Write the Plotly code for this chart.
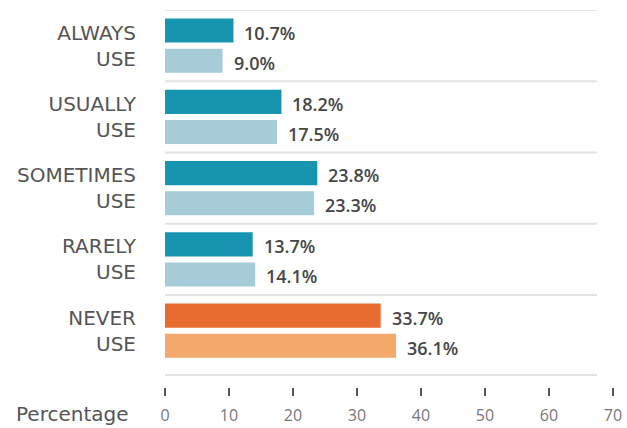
import plotly.graph_objects as go

categories = ["ALWAYS<br>USE", "USUALLY<br>USE", "SOMETIMES<br>USE", "RARELY<br>USE", "NEVER<br>USE"]
series_a = [10.7, 18.2, 23.8, 13.7, 33.7]
series_b = [9.0, 17.5, 23.3, 14.1, 36.1]
colors_a = ["#1795b0", "#1795b0", "#1795b0", "#1795b0", "#e86b2f"]
colors_b = ["#a6cdd7", "#a6cdd7", "#a6cdd7", "#a6cdd7", "#f2a96a"]
x_ticks = [0, 10, 20, 30, 40, 50, 60, 70]

LABEL_FONT = "DejaVu Sans"
VALUE_FONT = "Open Sans"
pos = list(range(len(categories)))

fig = go.Figure()
fig.add_trace(go.Bar(y=pos, x=series_a, orientation="h", marker=dict(color=colors_a, line=dict(width=0)),
                     hoverinfo="skip", showlegend=False))
fig.add_trace(go.Bar(y=pos, x=series_b, orientation="h", marker=dict(color=colors_b, line=dict(width=0)),
                     hoverinfo="skip", showlegend=False))

ann = []
off = 0.21
for i, (a, b) in enumerate(zip(series_a, series_b)):
    for v, dy in ((a, -off), (b, off)):
        ann.append(dict(x=v, y=i + dy, xref="x", yref="y", text=f"{v:.1f}%", showarrow=False,
                        xanchor="left", yanchor="middle", xshift=9, yshift=-2,
                        font=dict(family=VALUE_FONT, size=18, color="#474747", weight=600)))
ann.append(dict(x=-0.075, y=0, xref="paper", yref="paper", yshift=-27, text="Percentage",
                showarrow=False, xanchor="right", yanchor="middle",
                font=dict(family=LABEL_FONT, size=20, color="#555555")))

shapes = []
for yb in [-0.5, 0.5, 1.5, 2.5, 3.5, 4.62]:
    shapes.append(dict(type="line", xref="x", yref="y", x0=0, x1=67.5, y0=yb, y1=yb,
                       line=dict(color="#e3e3e3", width=2), layer="below"))

fig.update_layout(
    width=627, height=428,
    margin=dict(l=165, r=14, t=10, b=41),
    plot_bgcolor="white", paper_bgcolor="white",
    barmode="group", bargap=0.155, bargroupgap=0.2,
    annotations=ann, shapes=shapes,
    xaxis=dict(range=[0, 70], tickvals=x_ticks, showgrid=False, zeroline=False, showline=False,
               automargin=False,
               ticks="outside", ticklen=8, tickwidth=2, tickcolor="#555555",
               tickfont=dict(family=VALUE_FONT, size=16, color="#777777"), ticklabelstandoff=6),
    yaxis=dict(range=[4.79, -0.5], tickvals=pos, ticktext=categories, showgrid=False,
               automargin=False,
               zeroline=False, showline=False, ticks="", ticklabelstandoff=28,
               tickfont=dict(family=LABEL_FONT, size=20, color="#555555")),
)

fig.write_html("out.html", config={"displayModeBar": False},
               post_script="document.body.style.margin='0';document.body.style.overflow='hidden';")
